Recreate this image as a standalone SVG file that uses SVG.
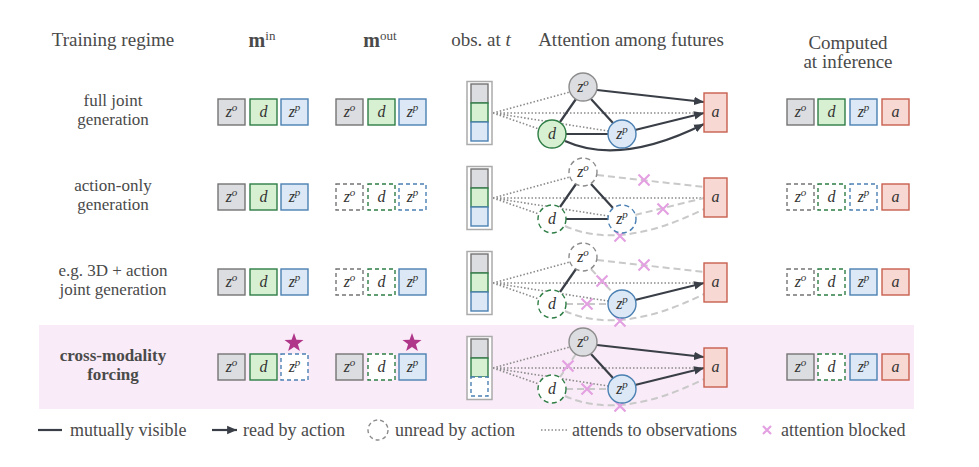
<svg xmlns="http://www.w3.org/2000/svg" width="979" height="467" viewBox="0 0 979 467">
<style>
text{font-family:"Liberation Serif","Times New Roman",serif;fill:#4a4a4a}
.hd{font-size:19px;text-anchor:middle}
.lb{font-size:17px;text-anchor:middle}
.lbb{font-size:17px;text-anchor:middle;font-weight:bold}
.lg{font-size:18px}
.m{font-size:16px;font-style:italic;text-anchor:middle;fill:#333}
.sup{font-size:11px}
.b{stroke-width:1.4}
.bo{fill:#dcdde0;stroke:#747474}
.bd{fill:#d8f0d2;stroke:#2e7d45}
.bp{fill:#dce8f5;stroke:#4b80b2}
.ba{fill:#f7d8d2;stroke:#c8604f}
.co{fill:#dcdde0;stroke:#8c8c8c}
.dash{fill:#fff;stroke-dasharray:4 3}
.dc{fill:#fff;stroke-dasharray:5 3.5}
.solid{stroke:#3a3f47;stroke-width:2.2;fill:none}
.arr{stroke:#3a3f47;stroke-width:2.2;fill:none;marker-end:url(#ah)}
.dot{stroke:#8a8a8a;stroke-width:1.6;stroke-dasharray:1.5 2;fill:none}
.gd{stroke:#c9c9c9;stroke-width:2;stroke-dasharray:7 4;fill:none}
.x{stroke:#e3a1e1;stroke-width:2.2;fill:none}
.star{fill:#b0368a}
.ob{fill:#fff;stroke:#ababab;stroke-width:1.5}
</style>
<defs>
<marker id="ah" viewBox="0 0 10 10" refX="10" refY="5" markerWidth="4.5" markerHeight="4.5" orient="auto" markerUnits="strokeWidth">
<path d="M0,0.8 L10,5 L0,9.2 z" fill="#3a3f47"/>
</marker>
<path id="xm" d="M-5.5,-5.5 L5.5,5.5 M-5.5,5.5 L5.5,-5.5"/>
</defs>

<rect x="39" y="325" width="875" height="84" fill="#f9ebf7"/>

<g id="headers">
<text class="hd" x="113" y="46">Training regime</text>
<text class="hd" x="262" y="47"><tspan font-weight="bold" font-size="20px">m</tspan><tspan font-size="13px" dy="-7">in</tspan></text>
<text class="hd" x="380" y="47"><tspan font-weight="bold" font-size="20px">m</tspan><tspan font-size="13px" dy="-7">out</tspan></text>
<text class="hd" x="481" y="46">obs. at <tspan font-style="italic">t</tspan></text>
<text class="hd" x="631" y="46">Attention among futures</text>
<text class="hd" x="848" y="49">Computed</text>
<text class="hd" x="848" y="68">at inference</text>
</g>

<g id="row-labels">
<text class="lb" x="113" y="105.5">full joint</text>
<text class="lb" x="113" y="125">generation</text>
<text class="lb" x="113" y="190.5">action-only</text>
<text class="lb" x="113" y="210">generation</text>
<text class="lb" x="113" y="275.5">e.g. 3D + action</text>
<text class="lb" x="113" y="295">joint generation</text>
<text class="lbb" x="113" y="360.5">cross-modality</text>
<text class="lbb" x="113" y="380">forcing</text>
</g>

<!-- Row 1 -->
<g id="row1-min">
<rect class="b bo" x="218" y="99" width="27" height="26"/><text class="m" x="231.5" y="117">z<tspan class="sup" dy="-6">o</tspan></text>
<rect class="b bd" x="250" y="99" width="27" height="26"/><text class="m" x="263.5" y="117">d</text>
<rect class="b bp" x="281" y="99" width="27" height="26"/><text class="m" x="294.5" y="117">z<tspan class="sup" dy="-6">p</tspan></text>
</g>
<g id="row1-mout">
<rect class="b bo" x="336" y="99" width="27" height="26"/><text class="m" x="349.5" y="117">z<tspan class="sup" dy="-6">o</tspan></text>
<rect class="b bd" x="368" y="99" width="27" height="26"/><text class="m" x="381.5" y="117">d</text>
<rect class="b bp" x="399" y="99" width="27" height="26"/><text class="m" x="412.5" y="117">z<tspan class="sup" dy="-6">p</tspan></text>
</g>
<g id="row1-inf">
<rect class="b bo" x="787" y="99" width="27" height="26"/><text class="m" x="800.5" y="117">z<tspan class="sup" dy="-6">o</tspan></text>
<rect class="b bd" x="818" y="99" width="27" height="26"/><text class="m" x="831.5" y="117">d</text>
<rect class="b bp" x="850" y="99" width="27" height="26"/><text class="m" x="863.5" y="117">z<tspan class="sup" dy="-6">p</tspan></text>
<rect class="b ba" x="882" y="99" width="27" height="26"/><text class="m" x="895.5" y="117">a</text>
</g>

<!-- Row 2 -->
<g id="row2-min">
<rect class="b bo" x="218" y="184" width="27" height="26"/><text class="m" x="231.5" y="202">z<tspan class="sup" dy="-6">o</tspan></text>
<rect class="b bd" x="250" y="184" width="27" height="26"/><text class="m" x="263.5" y="202">d</text>
<rect class="b bp" x="281" y="184" width="27" height="26"/><text class="m" x="294.5" y="202">z<tspan class="sup" dy="-6">p</tspan></text>
</g>
<g id="row2-mout">
<rect class="b bo dash" x="336" y="184" width="27" height="26"/><text class="m" x="349.5" y="202">z<tspan class="sup" dy="-6">o</tspan></text>
<rect class="b bd dash" x="368" y="184" width="27" height="26"/><text class="m" x="381.5" y="202">d</text>
<rect class="b bp dash" x="399" y="184" width="27" height="26"/><text class="m" x="412.5" y="202">z<tspan class="sup" dy="-6">p</tspan></text>
</g>
<g id="row2-inf">
<rect class="b bo dash" x="787" y="184" width="27" height="26"/><text class="m" x="800.5" y="202">z<tspan class="sup" dy="-6">o</tspan></text>
<rect class="b bd dash" x="818" y="184" width="27" height="26"/><text class="m" x="831.5" y="202">d</text>
<rect class="b bp dash" x="850" y="184" width="27" height="26"/><text class="m" x="863.5" y="202">z<tspan class="sup" dy="-6">p</tspan></text>
<rect class="b ba" x="882" y="184" width="27" height="26"/><text class="m" x="895.5" y="202">a</text>
</g>

<!-- Row 3 -->
<g id="row3-min">
<rect class="b bo" x="218" y="269" width="27" height="26"/><text class="m" x="231.5" y="287">z<tspan class="sup" dy="-6">o</tspan></text>
<rect class="b bd" x="250" y="269" width="27" height="26"/><text class="m" x="263.5" y="287">d</text>
<rect class="b bp" x="281" y="269" width="27" height="26"/><text class="m" x="294.5" y="287">z<tspan class="sup" dy="-6">p</tspan></text>
</g>
<g id="row3-mout">
<rect class="b bo dash" x="336" y="269" width="27" height="26"/><text class="m" x="349.5" y="287">z<tspan class="sup" dy="-6">o</tspan></text>
<rect class="b bd dash" x="368" y="269" width="27" height="26"/><text class="m" x="381.5" y="287">d</text>
<rect class="b bp" x="399" y="269" width="27" height="26"/><text class="m" x="412.5" y="287">z<tspan class="sup" dy="-6">p</tspan></text>
</g>
<g id="row3-inf">
<rect class="b bo dash" x="787" y="269" width="27" height="26"/><text class="m" x="800.5" y="287">z<tspan class="sup" dy="-6">o</tspan></text>
<rect class="b bd dash" x="818" y="269" width="27" height="26"/><text class="m" x="831.5" y="287">d</text>
<rect class="b bp" x="850" y="269" width="27" height="26"/><text class="m" x="863.5" y="287">z<tspan class="sup" dy="-6">p</tspan></text>
<rect class="b ba" x="882" y="269" width="27" height="26"/><text class="m" x="895.5" y="287">a</text>
</g>

<!-- Row 4 -->
<g id="row4-min">
<rect class="b bo" x="218" y="354" width="27" height="26"/><text class="m" x="231.5" y="372">z<tspan class="sup" dy="-6">o</tspan></text>
<rect class="b bd" x="250" y="354" width="27" height="26"/><text class="m" x="263.5" y="372">d</text>
<rect class="b bp dash" x="281" y="354" width="27" height="26"/><text class="m" x="294.5" y="372">z<tspan class="sup" dy="-6">p</tspan></text>
<polygon class="star" transform="translate(294,343)" points="0,-10 2.4,-3.3 9.5,-3.1 3.9,1.3 5.9,8.1 0,4.1 -5.9,8.1 -3.9,1.3 -9.5,-3.1 -2.4,-3.3"/>
</g>
<g id="row4-mout">
<rect class="b bo" x="336" y="354" width="27" height="26"/><text class="m" x="349.5" y="372">z<tspan class="sup" dy="-6">o</tspan></text>
<rect class="b bd dash" x="368" y="354" width="27" height="26"/><text class="m" x="381.5" y="372">d</text>
<rect class="b bp" x="399" y="354" width="27" height="26"/><text class="m" x="412.5" y="372">z<tspan class="sup" dy="-6">p</tspan></text>
<polygon class="star" transform="translate(412,343)" points="0,-10 2.4,-3.3 9.5,-3.1 3.9,1.3 5.9,8.1 0,4.1 -5.9,8.1 -3.9,1.3 -9.5,-3.1 -2.4,-3.3"/>
</g>
<g id="row4-inf">
<rect class="b bo" x="787" y="354" width="27" height="26"/><text class="m" x="800.5" y="372">z<tspan class="sup" dy="-6">o</tspan></text>
<rect class="b bd dash" x="818" y="354" width="27" height="26"/><text class="m" x="831.5" y="372">d</text>
<rect class="b bp" x="850" y="354" width="27" height="26"/><text class="m" x="863.5" y="372">z<tspan class="sup" dy="-6">p</tspan></text>
<rect class="b ba" x="882" y="354" width="27" height="26"/><text class="m" x="895.5" y="372">a</text>
</g>

<!-- Connectors -->
<g id="connectors">
<g>
<path class="dot" d="M493,113 L570,92 M493,113 L539,129 M493,113 L608,131 M493,113 L704,113"/>
<path class="solid" d="M576,99 L560,122 M591,99 L613,123 M566,134 L608,134"/>
<path class="arr" d="M597,90 L704,102"/>
<path class="arr" d="M635,130 L704,113"/>
<path class="arr" d="M565,141 Q620,166 704,124"/>
</g>
<g transform="translate(0,85)">
<path class="dot" d="M493,113 L570,92 M493,113 L539,129 M493,113 L608,131 M493,113 L704,113"/>
<path class="solid" d="M576,99 L560,122 M591,99 L613,123 M566,134 L608,134"/>
<path class="gd" d="M597,90 L704,102"/>
<path class="gd" d="M635,130 L704,113"/>
<path class="gd" d="M565,141 Q620,166 704,124"/>
<use href="#xm" class="x" x="644" y="95"/>
<use href="#xm" class="x" x="663" y="124"/>
<use href="#xm" class="x" x="620" y="151"/>
</g>
<g transform="translate(0,170)">
<path class="dot" d="M493,113 L570,92 M493,113 L539,129 M493,113 L608,131 M493,113 L704,113"/>
<path class="solid" d="M576,99 L560,122"/>
<path class="gd" d="M591,99 L613,123 M566,134 L608,134"/>
<path class="gd" d="M597,90 L704,102"/>
<path class="arr" d="M635,130 L704,113"/>
<path class="gd" d="M565,141 Q620,166 704,124"/>
<use href="#xm" class="x" x="644" y="95"/>
<use href="#xm" class="x" x="602" y="111"/>
<use href="#xm" class="x" x="587" y="134"/>
<use href="#xm" class="x" x="620" y="151"/>
</g>
<g transform="translate(0,255)">
<path class="dot" d="M493,113 L570,92 M493,113 L539,129 M493,113 L608,131 M493,113 L704,113"/>
<path class="gd" d="M576,99 L560,122 M566,134 L608,134"/>
<path class="solid" d="M591,99 L613,123"/>
<path class="arr" d="M597,90 L704,102"/>
<path class="arr" d="M635,130 L704,113"/>
<path class="gd" d="M565,141 Q620,166 704,124"/>
<use href="#xm" class="x" x="568" y="111"/>
<use href="#xm" class="x" x="587" y="134"/>
<use href="#xm" class="x" x="620" y="151"/>
</g>
</g>

<!-- Observation bars -->
<g id="obs1">
<rect class="ob" x="467" y="81.5" width="25" height="63"/>
<rect class="b bo" x="471" y="84" width="17" height="19"/>
<rect class="b bd" x="471" y="103" width="17" height="19"/>
<rect class="b bp" x="471" y="122" width="17" height="19"/>
</g>
<g id="obs2" transform="translate(0,85)">
<rect class="ob" x="467" y="81.5" width="25" height="63"/>
<rect class="b bo" x="471" y="84" width="17" height="19"/>
<rect class="b bd" x="471" y="103" width="17" height="19"/>
<rect class="b bp" x="471" y="122" width="17" height="19"/>
</g>
<g id="obs3" transform="translate(0,170)">
<rect class="ob" x="467" y="81.5" width="25" height="63"/>
<rect class="b bo" x="471" y="84" width="17" height="19"/>
<rect class="b bd" x="471" y="103" width="17" height="19"/>
<rect class="b bp" x="471" y="122" width="17" height="19"/>
</g>
<g id="obs4" transform="translate(0,255)">
<rect class="ob" x="467" y="81.5" width="25" height="63"/>
<rect class="b bo" x="471" y="84" width="17" height="19"/>
<rect class="b bd" x="471" y="103" width="17" height="19"/>
<rect class="b bp dash" x="471" y="122" width="17" height="19"/>
</g>

<!-- Graph nodes -->
<g id="g1">
<circle class="b co" cx="583" cy="87" r="14"/><text class="m" x="583" y="92">z<tspan class="sup" dy="-6">o</tspan></text>
<circle class="b bd" cx="552" cy="134" r="14"/><text class="m" x="552" y="139">d</text>
<circle class="b bp" cx="622" cy="134" r="14"/><text class="m" x="622" y="139">z<tspan class="sup" dy="-6">p</tspan></text>
<rect class="b ba" x="704" y="93" width="23" height="39"/><text class="m" x="715.5" y="117">a</text>
</g>
<g id="g2" transform="translate(0,85)">
<circle class="b co dc" cx="583" cy="87" r="14"/><text class="m" x="583" y="92">z<tspan class="sup" dy="-6">o</tspan></text>
<circle class="b bd dc" cx="552" cy="134" r="14"/><text class="m" x="552" y="139">d</text>
<circle class="b bp dc" cx="622" cy="134" r="14"/><text class="m" x="622" y="139">z<tspan class="sup" dy="-6">p</tspan></text>
<rect class="b ba" x="704" y="93" width="23" height="39"/><text class="m" x="715.5" y="117">a</text>
</g>
<g id="g3" transform="translate(0,170)">
<circle class="b co dc" cx="583" cy="87" r="14"/><text class="m" x="583" y="92">z<tspan class="sup" dy="-6">o</tspan></text>
<circle class="b bd dc" cx="552" cy="134" r="14"/><text class="m" x="552" y="139">d</text>
<circle class="b bp" cx="622" cy="134" r="14"/><text class="m" x="622" y="139">z<tspan class="sup" dy="-6">p</tspan></text>
<rect class="b ba" x="704" y="93" width="23" height="39"/><text class="m" x="715.5" y="117">a</text>
</g>
<g id="g4" transform="translate(0,255)">
<circle class="b co" cx="583" cy="87" r="14"/><text class="m" x="583" y="92">z<tspan class="sup" dy="-6">o</tspan></text>
<circle class="b bd dc" cx="552" cy="134" r="14"/><text class="m" x="552" y="139">d</text>
<circle class="b bp" cx="622" cy="134" r="14"/><text class="m" x="622" y="139">z<tspan class="sup" dy="-6">p</tspan></text>
<rect class="b ba" x="704" y="93" width="23" height="39"/><text class="m" x="715.5" y="117">a</text>
</g>

<!-- Legend -->
<g id="legend">
<line class="solid" x1="38" y1="430" x2="62" y2="430"/>
<text class="lg" x="70" y="436">mutually visible</text>
<line class="arr" x1="212" y1="430" x2="237" y2="430"/>
<text class="lg" x="243" y="436">read by action</text>
<circle cx="378" cy="430" r="10" fill="none" stroke="#8c8c8c" stroke-width="1.4" stroke-dasharray="4 3"/>
<text class="lg" x="395" y="436">unread by action</text>
<line class="dot" x1="541" y1="430" x2="567" y2="430"/>
<text class="lg" x="572" y="436">attends to observations</text>
<path class="x" d="M763,426 L771,434 M763,434 L771,426"/>
<text class="lg" x="781" y="436">attention blocked</text>
</g>
</svg>
